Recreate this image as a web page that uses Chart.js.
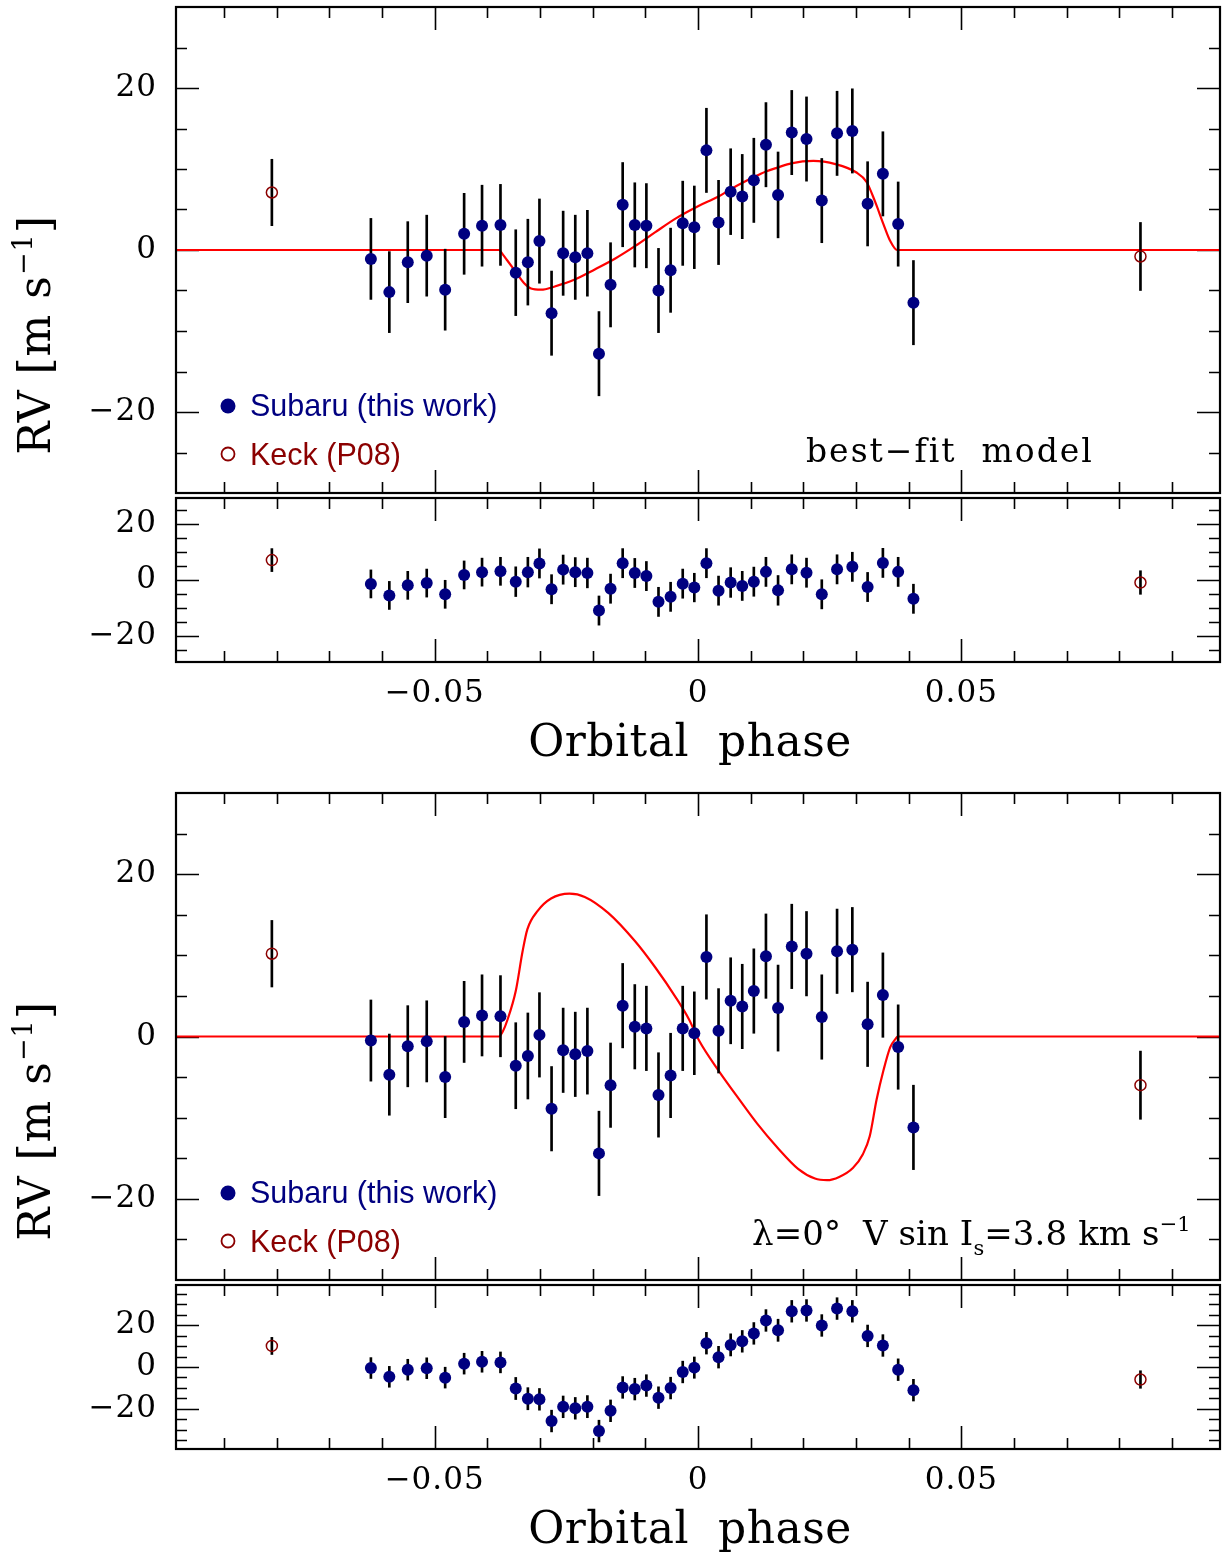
<!DOCTYPE html>
<html><head><meta charset="utf-8">
<script src="https://cdn.jsdelivr.net/npm/chart.js@4.4.1/dist/chart.umd.min.js"></script>
<style>
html,body{margin:0;padding:0;background:#fff;}
body{width:1227px;height:1553px;position:relative;overflow:hidden;}
.pane{position:absolute;left:0;width:1227px;}
canvas{display:block;}
</style></head><body>
<div class="pane" style="top:0px;height:500px"><canvas id="cA" width="1227" height="500"></canvas></div>
<div class="pane" style="top:490px;height:290px"><canvas id="cB" width="1227" height="290"></canvas></div>
<div class="pane" style="top:785px;height:502px"><canvas id="cC" width="1227" height="502"></canvas></div>
<div class="pane" style="top:1277px;height:276px"><canvas id="cD" width="1227" height="276"></canvas></div>
<script>
// ---------------- data ----------------
const phaseSubaru = [-0.0621,-0.0586,-0.0551,-0.0515,-0.0480,-0.0444,-0.0410,-0.0375,-0.0346,-0.0323,
  -0.0301,-0.0278,-0.0256,-0.0233,-0.0210,-0.0188,-0.0166,-0.0143,-0.0120,-0.0098,
  -0.0075,-0.0052,-0.0029,-0.0007,0.0016,0.0039,0.0062,0.0084,0.0106,0.0129,
  0.0152,0.0178,0.0206,0.0235,0.0264,0.0293,0.0322,0.0351,0.0380,0.0409];
const errSubaru = [5.0,5.0,5.0,5.0,5.0,5.0,5.0,5.0,5.3,5.3,
  5.2,5.2,5.2,5.2,5.3,5.2,5.2,5.2,5.2,5.2,
  5.2,5.2,5.2,5.1,5.2,5.2,5.3,5.2,5.2,5.2,
  5.3,5.2,5.2,5.2,5.2,5.2,5.2,5.2,5.2,5.2];
const rvSubaruBest = [-1.1,-5.2,-1.5,-0.7,-4.9,2.0,3.0,3.1,-2.8,-1.5,
  1.1,-7.8,-0.4,-0.9,-0.4,-12.8,-4.3,5.6,3.1,3.0,
  -5.0,-2.5,3.3,2.8,12.3,3.4,7.2,6.6,8.6,13.0,
  6.8,14.5,13.7,6.1,14.4,14.7,5.7,9.4,3.2,-6.5];
const residSubaruBest = [-1.4,-5.5,-1.9,-1.1,-5.1,1.8,2.8,3.1,-0.6,2.8,
  5.9,-3.3,3.7,2.8,2.5,-10.9,-3.1,6.0,2.5,1.4,
  -7.8,-6.0,-1.3,-2.7,6.0,-3.8,-0.9,-2.1,-0.6,2.9,
  -3.7,3.8,2.6,-5.1,3.8,4.7,-2.5,6.1,2.9,-6.7];
const rvSubaruZero = [-0.5,-4.7,-1.2,-0.6,-5.0,1.8,2.6,2.5,-3.6,-2.4,
  0.2,-8.9,-1.7,-2.2,-1.8,-14.4,-6.0,3.8,1.2,1.0,
  -7.2,-4.8,1.0,0.4,9.8,0.7,4.4,3.7,5.6,9.9,
  3.5,11.1,10.2,2.4,10.5,10.7,1.5,5.1,-1.3,-11.2];
const residSubaruZero = [-0.5,-4.7,-1.3,-0.6,-5.1,1.6,2.5,2.2,-10.3,-15.2,
  -15.5,-25.9,-19.1,-19.8,-19.0,-30.7,-21.0,-9.8,-10.6,-8.9,
  -14.7,-10.1,-2.4,-0.3,11.4,4.7,10.6,12.3,16.1,22.3,
  17.6,26.7,27.1,19.9,28.0,26.7,14.9,10.3,-1.3,-11.1];

const phaseKeck = [-0.0809, 0.0840];
const errKeck = [4.1, 4.2];
const rvKeckBest = [7.1, -0.8];
const residKeckBest = [7.1, -0.9];
const rvKeckZero = [10.2, -6.0];
const residKeckZero = [10.1, -6.0];

const modelBestPhase = [-0.0991,-0.0378,-0.0370,-0.0362,-0.0346,-0.0330,-0.0317,-0.0298,-0.0272,-0.0234,
  -0.0196,-0.0157,-0.0119,-0.0081,-0.0042,0.0000,0.0039,0.0062,0.0106,0.0129,0.0152,0.0177,0.0219,
  0.0261,0.0300,0.0320,0.0336,0.0352,0.0365,0.0378,0.0991];
const modelBestRv = [0,0,-0.6,-1.3,-2.7,-4.1,-4.75,-4.9,-4.5,-3.65,
  -2.4,-1.05,0.5,2.2,3.9,5.4,6.6,7.5,9.0,9.7,10.2,10.7,11.0,
  10.6,9.6,8.4,6.0,3.2,1.1,0,0];
const modelZeroPhase = [-0.0991,-0.0378,-0.0370,-0.0362,-0.0346,-0.0333,-0.0324,-0.0304,-0.0279,-0.0244,
  -0.0215,-0.0170,-0.0119,-0.0081,-0.0042,-0.0017,0.0002,0.0039,0.0080,0.0112,
  0.0151,0.0190,0.0222,0.0245,0.0268,0.0294,0.0313,0.0326,0.0339,0.0352,
  0.0365,0.0375,0.0379,0.0991];
const modelZeroRv = [0,0,0.7,2.0,5.6,10.5,13.2,15.5,17.0,17.6,
  17.2,15.2,11.7,8.5,4.8,2.1,-0.5,-4.2,-7.9,-10.7,
  -13.7,-16.3,-17.5,-17.7,-17.3,-16.2,-14.5,-12.3,-7.8,-4.2,
  -1.3,-0.3,0,0];

const xTickValues = [-0.05, 0, 0.05];
const xTickLabels = ['\u22120.05', '0', '0.05'];
const xMinorTicks = [-0.09,-0.08,-0.07,-0.06,-0.04,-0.03,-0.02,-0.01,0.01,0.02,0.03,0.04,0.06,0.07,0.08,0.09];
const yTickValues = [-20, 0, 20];
const yTickLabels = ['\u221220', '0', '20'];
const yMinorMain = [-25,-15,-10,-5,5,10,15,25];
const yMinorResBest = [-25,-15,-10,-5,5,10,15,25];
const yMinorResZero = [-35,-30,-25,-15,-10,-5,5,10,15,25,30,35];

// ---------------- styling ----------------
const SERIF = 'DejaVu Serif';
const SANS = 'Liberation Sans';
const NAVY = '#000080';
const MAROON = '#8b0000';
const XR = 0.0991;

function drawRich(ctx, segs, x, y, size, family, color, align, spacing) {
  const small = Math.round(size * 0.62);
  ctx.letterSpacing = spacing + 'px';
  const parts = segs.map(s => {
    const fs = (s.sup || s.sub) ? small : size;
    ctx.font = fs + 'px "' + family + '"';
    return {s, fs, w: ctx.measureText(s.t).width};
  });
  const total = parts.reduce((a, p) => a + p.w, 0);
  let cx = align === 'center' ? x - total / 2 : (align === 'right' ? x - total : x);
  ctx.fillStyle = color; ctx.textBaseline = 'alphabetic'; ctx.textAlign = 'left';
  for (const p of parts) {
    ctx.font = p.fs + 'px "' + family + '"';
    const dy = p.s.sup ? -size * 0.40 : (p.s.sub ? size * 0.30 : 0);
    ctx.fillText(p.s.t, cx, y + dy);
    cx += p.w;
  }
}

const framePlugin = {
  id: 'frame',
  beforeDraw(chart) { chart.ctx.letterSpacing = '1px'; },
  beforeDatasetsDraw(chart, args, o) {
    const {ctx, chartArea: a} = chart;
    const x = chart.scales.x, y = chart.scales.y;
    ctx.save();
    ctx.letterSpacing = '0px';
    ctx.strokeStyle = '#000';
    ctx.lineWidth = 1.6;
    ctx.beginPath();
    const xt = (vals, len) => vals.forEach(v => {
      const px = Math.round(x.getPixelForValue(v)) + 0.5;
      ctx.moveTo(px, a.top); ctx.lineTo(px, a.top + len);
      ctx.moveTo(px, a.bottom); ctx.lineTo(px, a.bottom - len);
    });
    const yt = (vals, len) => vals.forEach(v => {
      const py = Math.round(y.getPixelForValue(v)) + 0.5;
      ctx.moveTo(a.left, py); ctx.lineTo(a.left + len, py);
      ctx.moveTo(a.right, py); ctx.lineTo(a.right - len, py);
    });
    xt(o.xMinor, 11); xt(o.xMajor, 23);
    yt(o.yMinor, 11); yt(o.yMajor, 23);
    ctx.stroke();
    ctx.restore();
  },
  afterDatasetsDraw(chart) {
    const {ctx, chartArea: a} = chart;
    ctx.save();
    ctx.strokeStyle = '#000';
    ctx.lineWidth = 2.2;
    ctx.strokeRect(a.left, a.top, a.right - a.left, a.bottom - a.top);
    ctx.restore();
  },
  afterDraw(chart, args, o) {
    const ctx = chart.ctx;
    const off = o.offset || 0;
    ctx.save();
    for (const t of (o.texts || [])) {
      ctx.save();
      if (t.rotate) {
        ctx.translate(t.x, t.y - off);
        ctx.rotate(-Math.PI / 2);
        drawRich(ctx, t.segs, 0, 0, t.size, t.family, t.color, t.align, t.spacing);
      } else {
        drawRich(ctx, t.segs, t.x, t.y - off, t.size, t.family, t.color, t.align, t.spacing);
      }
      ctx.restore();
    }
    for (const m of (o.markers || [])) {
      ctx.beginPath();
      ctx.arc(m.x, m.y - off, m.r, 0, Math.PI * 2);
      if (m.filled) { ctx.fillStyle = m.color; ctx.fill(); }
      else { ctx.strokeStyle = m.color; ctx.lineWidth = 1.8; ctx.stroke(); }
    }
    ctx.restore();
    ctx.letterSpacing = '0px';
  }
};

function zeroPad(s) { s.paddingTop = 0; s.paddingBottom = 0; s.paddingLeft = 0; s.paddingRight = 0; }

function makePanel(id, cfg) {
  const pts = (xs, ys) => xs.map((x, i) => ({x, y: ys[i]}));
  const bars = phaseSubaru.map((x, i) => ({x, y: [cfg.subaru[i] - errSubaru[i], cfg.subaru[i] + errSubaru[i]]}))
    .concat(phaseKeck.map((x, i) => ({x, y: [cfg.keck[i] - errKeck[i], cfg.keck[i] + errKeck[i]]})));
  const datasets = [];
  if (cfg.model) {
    datasets.push({type: 'line', label: 'model', data: pts(cfg.model[0], cfg.model[1]),
      borderColor: '#ff0000', borderWidth: 2.2, pointRadius: 0, fill: false,
      cubicInterpolationMode: 'monotone', order: 3});
  }
  datasets.push({type: 'bar', label: 'errors', data: bars, backgroundColor: '#000',
    barThickness: 2, borderWidth: 0, order: 2});
  datasets.push({type: 'scatter', label: 'Keck (P08)', data: pts(phaseKeck, cfg.keck),
    pointRadius: 5.5, pointBackgroundColor: 'rgba(0,0,0,0)', pointBorderColor: MAROON,
    pointBorderWidth: 1.5, order: 1});
  datasets.push({type: 'scatter', label: 'Subaru (this work)', data: pts(phaseSubaru, cfg.subaru),
    pointRadius: 6, pointBackgroundColor: NAVY, pointBorderColor: NAVY,
    pointBorderWidth: 0, order: 0});

  return new Chart(document.getElementById(id), {
    type: 'scatter',
    data: {datasets},
    plugins: [framePlugin],
    options: {
      responsive: false, animation: false, devicePixelRatio: 1, events: [],
      layout: {padding: {top: cfg.padTop, bottom: cfg.padBottom, left: 0, right: 5}},
      plugins: {
        legend: {display: false}, tooltip: {enabled: false},
        frame: {xMinor: xMinorTicks, xMajor: xTickValues, yMinor: cfg.yMinor, yMajor: yTickValues,
          offset: cfg.offset, texts: cfg.texts || [], markers: cfg.markers || []}
      },
      scales: {
        x: {
          type: 'linear', min: -XR, max: XR, offset: false, display: cfg.showX,
          grid: {display: false, drawTicks: false, tickLength: 0}, border: {display: false},
          afterBuildTicks: s => { s.ticks = xTickValues.map(v => ({value: v})); },
          ticks: {autoSkip: false, maxRotation: 0, minRotation: 0, padding: 16, color: '#000',
            font: {family: SERIF, size: 31, lineHeight: 1},
            callback: (v, i) => xTickLabels[i]},
          afterFit: s => { zeroPad(s); if (cfg.showX) s.height = cfg.xHeight; }
        },
        y: {
          type: 'linear', min: -cfg.yr, max: cfg.yr, position: 'left',
          grid: {display: false, drawTicks: false, tickLength: 0}, border: {display: false},
          afterBuildTicks: s => { s.ticks = yTickValues.map(v => ({value: v})); },
          ticks: {autoSkip: false, padding: 19, color: '#000',
            font: {family: SERIF, size: 31, lineHeight: 1},
            callback: (v, i) => yTickLabels[i]},
          afterFit: s => { zeroPad(s); s.width = 176; }
        }
      }
    }
  });
}

const rvTitle = [{t: 'RV [m s'}, {t: '\u22121', sup: true}, {t: ']'}];
function legendItems(dy) {
  return {
    texts: [
      {segs: [{t: 'Subaru (this work)'}], x: 250, y: 416 + dy, size: 30.5, family: SANS, color: NAVY, align: 'left', spacing: 0},
      {segs: [{t: 'Keck (P08)'}], x: 250, y: 465 + dy, size: 30.5, family: SANS, color: MAROON, align: 'left', spacing: 0}
    ],
    markers: [
      {x: 228, y: 406 + dy, r: 7.5, filled: true, color: NAVY},
      {x: 228, y: 454 + dy, r: 6.5, filled: false, color: MAROON}
    ]
  };
}
const legA = legendItems(0);
const legC = legendItems(787);

makePanel('cA', {
  subaru: rvSubaruBest, keck: rvKeckBest, model: [modelBestPhase, modelBestRv],
  yr: 30, yMinor: yMinorMain, showX: false, padTop: 6, padBottom: 2, offset: 0,
  texts: legA.texts.concat([
    {segs: rvTitle, x: 50, y: 335, size: 44, family: SERIF, color: '#000', align: 'center', spacing: 1, rotate: true},
    {segs: [{t: 'best\u2212fit  model'}], x: 806, y: 462, size: 33, family: SERIF, color: '#000', align: 'left', spacing: 2}
  ]),
  markers: legA.markers
});
makePanel('cB', {
  subaru: residSubaruBest, keck: residKeckBest, model: null,
  yr: 29.25, yMinor: yMinorResBest, showX: true, xHeight: 118, padTop: 8, padBottom: 0, offset: 490,
  texts: [
    {segs: [{t: 'Orbital  phase'}], x: 690, y: 756, size: 44, family: SERIF, color: '#000', align: 'center', spacing: 0.5}
  ]
});
makePanel('cC', {
  subaru: rvSubaruZero, keck: rvKeckZero, model: [modelZeroPhase, modelZeroRv],
  yr: 30, yMinor: yMinorMain, showX: false, padTop: 8, padBottom: 2, offset: 785,
  texts: legC.texts.concat([
    {segs: rvTitle, x: 50, y: 1121, size: 44, family: SERIF, color: '#000', align: 'center', spacing: 1, rotate: true},
    {segs: [{t: '\u03bb=0\u00b0  V sin I'}, {t: 's', sub: true}, {t: '=3.8 km s'}, {t: '\u22121', sup: true}],
      x: 752, y: 1245, size: 34, family: SERIF, color: '#000', align: 'left', spacing: 0.1}
  ]),
  markers: legC.markers
});
makePanel('cD', {
  subaru: residSubaruZero, keck: residKeckZero, model: null,
  yr: 39.3, yMinor: yMinorResZero, showX: true, xHeight: 104, padTop: 8, padBottom: 0, offset: 1277,
  texts: [
    {segs: [{t: 'Orbital  phase'}], x: 690, y: 1543, size: 44, family: SERIF, color: '#000', align: 'center', spacing: 0.5}
  ]
});
</script>
</body></html>
